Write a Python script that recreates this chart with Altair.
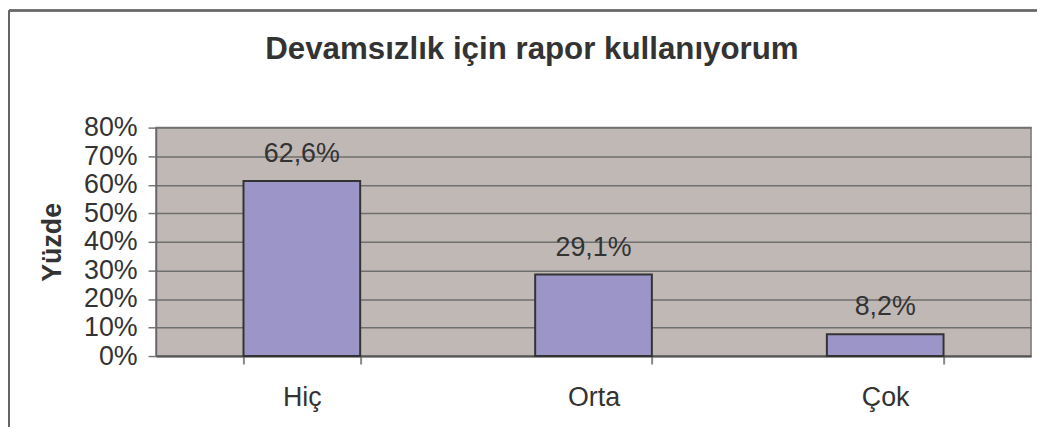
import altair as alt
import pandas as pd

categories = ["Hiç", "Orta", "Çok"]
bar_values = [0.613, 0.286, 0.076]
label_texts = ["62,6%", "29,1%", "8,2%"]
tick_values = [0.0, 0.1, 0.2, 0.3, 0.4, 0.5, 0.6, 0.7, 0.8]

df = pd.DataFrame({"cat": categories, "val": bar_values, "lab": label_texts})

W, H = 881, 230
PL, PT = 149, 119

x_enc = alt.X("cat:N", sort=categories, title=None,
              scale=alt.Scale(paddingInner=0.6, paddingOuter=0.3),
              axis=alt.Axis(labelAngle=0, labelFont="Liberation Sans", labelFontSize=27,
                            labelColor="#333333", tickBand="extent", tickSize=8,
                            tickColor="#888888", tickWidth=2, domainColor="#555555",
                            domainWidth=2, labelPadding=21, labelBaseline="top", grid=False))
y_enc = alt.Y("val:Q", title="Yüzde",
              scale=alt.Scale(domain=[0, 0.8], nice=False),
              axis=alt.Axis(format=".0%", values=tick_values, tickCount=9,
                            labelOverlap=False,
                            labelFont="Liberation Sans", labelFontSize=27, labelColor="#333333",
                            tickSize=8, tickColor="#777777", tickWidth=1.5,
                            domainColor="#666666", domainWidth=1.5, labelPadding=11,
                            grid=True, gridColor="#6f6f6f", gridWidth=1.5,
                            titleFont="Liberation Sans", titleFontSize=27, titleFontWeight="bold",
                            titleColor="#333333", titlePadding=17))

base = alt.Chart(df)
bars = base.mark_bar(color="#9c96c8", stroke="#333333", strokeWidth=2).encode(x=x_enc, y=y_enc)
labels = base.mark_text(font="Liberation Sans", fontSize=27, color="#333333",
                        baseline="alphabetic", dy=-19).encode(
    x=x_enc, y=y_enc, text="lab:N")

border_left = alt.Chart(df).mark_rule(color="#666666", strokeWidth=2).encode(
    x=alt.value(-148), y=alt.value(-118), y2=alt.value(H + 120))
border_top = alt.Chart(df).mark_rule(color="#666666", strokeWidth=2).encode(
    x=alt.value(-148), x2=alt.value(W + 10), y=alt.value(-118))

chart = alt.layer(bars, labels, border_left, border_top).properties(
    width=W, height=H,
    background="white",
    title=alt.TitleParams("Devamsızlık için rapor kullanıyorum", font="Liberation Sans",
                          fontSize=31.5, fontWeight="bold", color="#333333",
                          anchor="middle", frame="group", dx=-62, offset=-81,
                          baseline="alphabetic"),
    autosize=alt.AutoSizeParams(type="none"),
    padding={"left": PL, "top": PT, "right": 6, "bottom": 70},
).configure_view(fill="#c0b8b5", stroke="#777777", strokeWidth=1.5)

chart.save("out.html", embed_options={"renderer": "svg", "actions": False})
